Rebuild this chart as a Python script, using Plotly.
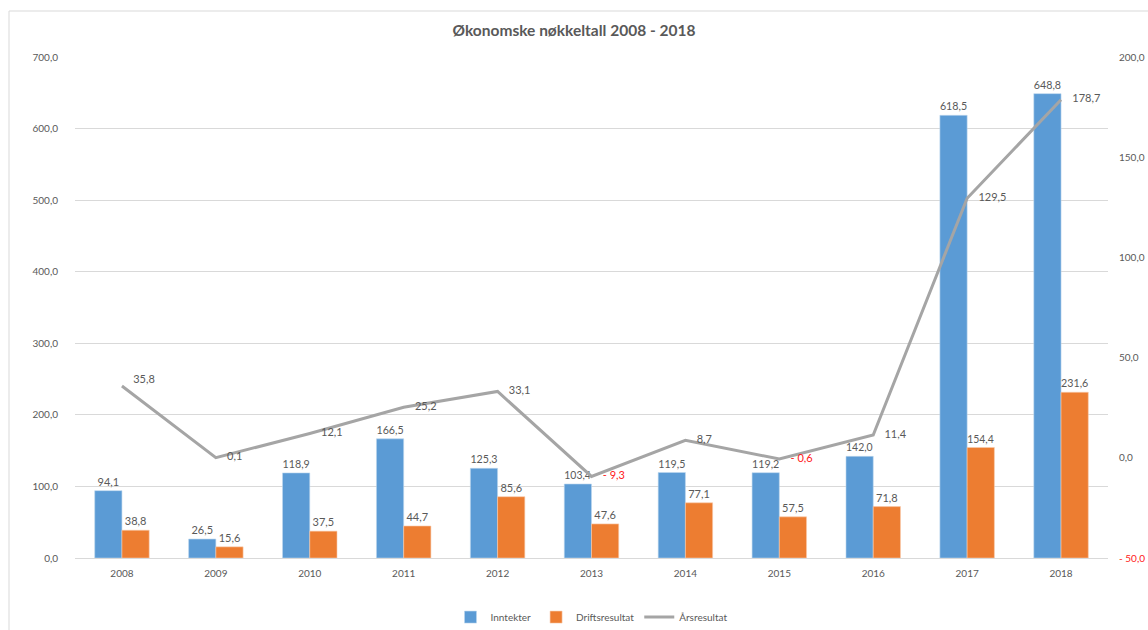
import plotly.graph_objects as go

years = ["2008", "2009", "2010", "2011", "2012", "2013", "2014", "2015", "2016", "2017", "2018"]
inntekter = [94.1, 26.5, 118.9, 166.5, 125.3, 103.4, 119.5, 119.2, 142.0, 618.5, 648.8]
driftsresultat = [38.8, 15.6, 37.5, 44.7, 85.6, 47.6, 77.1, 57.5, 71.8, 154.4, 231.6]
arsresultat = [35.8, 0.1, 12.1, 25.2, 33.1, -9.3, 8.7, -0.6, 11.4, 129.5, 178.7]

left_ticks = [0, 100, 200, 300, 400, 500, 600, 700]
right_ticks = [-50, 0, 50, 100, 150, 200]

TXT = "#595959"
RED = "#FF2020"
FONT = "Lato, 'Open Sans', sans-serif"


def fmt(v):
    s = f"{abs(v):.1f}".replace(".", ",")
    return ("- " + s) if v < 0 else s


NB = "\u00a0"
line_text = [NB * 4 + fmt(v) for v in arsresultat]
line_colors = [RED if v < 0 else TXT for v in arsresultat]
line_pos = ["top right"] + ["middle right"] * (len(arsresultat) - 1)

right_text = [
    f"<span style='color:{RED}'>{fmt(v)}</span>" if v < 0 else fmt(v)
    for v in right_ticks
]

fig = go.Figure()
fig.add_trace(go.Bar(
    x=years, y=inntekter, name="Inntekter",
    marker=dict(color="#5B9BD5", line=dict(color="#BDD7EE", width=0.6)),
    text=[fmt(v) for v in inntekter], textposition="outside",
    textfont=dict(color=TXT, size=11, family=FONT), cliponaxis=False,
))
fig.add_trace(go.Bar(
    x=years, y=driftsresultat, name="Driftsresultat",
    marker=dict(color="#ED7D31", line=dict(color="#F8CBAD", width=0.6)),
    text=[fmt(v) for v in driftsresultat], textposition="outside",
    textfont=dict(color=TXT, size=11, family=FONT), cliponaxis=False,
))
fig.add_trace(go.Scatter(
    x=years, y=arsresultat, name="Årsresultat", yaxis="y2",
    mode="lines+text", line=dict(color="#A5A5A5", width=3),
    text=line_text, textposition=line_pos,
    textfont=dict(color=line_colors, size=11, family=FONT), cliponaxis=False,
))

fig.update_layout(
    width=1148, height=630,
    margin=dict(l=75, r=40, t=57, b=72, autoexpand=False),
    paper_bgcolor="white", plot_bgcolor="white",
    separators=", ",
    font=dict(family=FONT, color=TXT, size=10),
    title=dict(text="<b>Økonomske nøkkeltall 2008 - 2018</b>", x=0.5, xanchor="center",
               y=1 - 31 / 630, yanchor="middle", font=dict(size=15.5, color=TXT, family=FONT)),
    barmode="group", bargap=0.42, bargroupgap=0,
    xaxis=dict(range=[-0.5, len(years) - 0.5], showgrid=False, showline=True,
               linecolor="#D9D9D9", linewidth=1,
               ticks="outside", ticklen=6, tickcolor="rgba(0,0,0,0)",
               tickfont=dict(size=10, color=TXT)),
    yaxis=dict(range=[0, 700], tickvals=left_ticks, tickformat=".1f",
               showgrid=True, gridcolor="#D9D9D9", gridwidth=1, zeroline=False,
               ticks="outside", ticklen=14, tickcolor="rgba(0,0,0,0)",
               tickfont=dict(size=10, color=TXT)),
    yaxis2=dict(range=[-50, 200], overlaying="y", side="right",
                tickvals=right_ticks, ticktext=right_text, showgrid=False, zeroline=False,
                ticks="outside", ticklen=8, tickcolor="rgba(0,0,0,0)",
                tickfont=dict(size=10, color=TXT)),
    legend=dict(orientation="h", x=0.5, xanchor="center", y=-0.118, yanchor="middle",
                font=dict(size=10, color=TXT), itemwidth=30, tracegroupgap=0),
    shapes=[dict(type="rect", xref="paper", yref="paper",
                 x0=(9 - 75) / 1033, x1=1.2, y0=-0.3, y1=(558 - 11) / 501,
                 line=dict(color="#D9D9D9", width=1), layer="below")],
)

fig.write_html("out.html")
